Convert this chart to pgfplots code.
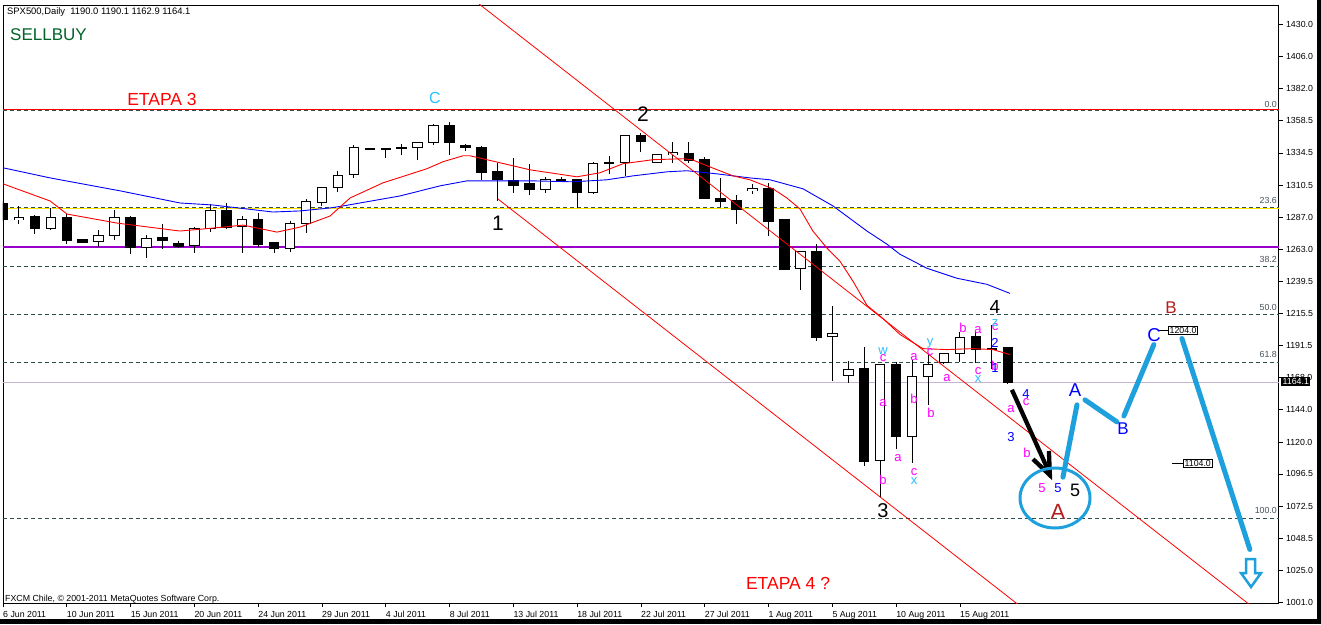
\documentclass[border=0pt]{standalone}
\usepackage{fontspec}
\setmainfont{Liberation Sans}
\usepackage{pgfplots}
\usepackage{pgfplotstable}
\pgfplotsset{compat=1.18}
\definecolor{fibc}{RGB}{47,79,79}
\definecolor{fibtxt}{RGB}{70,80,90}
\definecolor{wavecyan}{RGB}{30,160,220}
\definecolor{lblcyan}{RGB}{40,190,255}
\definecolor{mag}{RGB}{255,0,255}
\definecolor{darkred}{RGB}{180,30,30}
\definecolor{sbgreen}{RGB}{0,100,40}
\definecolor{purp}{RGB}{153,0,204}
\definecolor{curline}{RGB}{200,180,210}
\definecolor{yel}{RGB}{255,230,0}
\newcommand\fs[1]{\fontsize{#1}{#1}\selectfont}
% candles: bar index, open, high, low, close
\pgfplotstableread{
x o h l c
1 1284.8 1295.2 1281.8 1287.0
3 1278.8 1293.7 1277.3 1287.0
6 1269.1 1277.3 1264.7 1273.6
7 1273.6 1292.2 1269.9 1286.3
9 1264.7 1273.6 1256.5 1271.4
12 1266.1 1279.5 1260.2 1278.8
13 1278.8 1296.7 1275.8 1292.2
15 1280.3 1287.7 1260.2 1284.8
18 1263.9 1284.0 1260.9 1282.5
19 1282.5 1300.0 1275.1 1298.2
20 1297.4 1309.3 1295.2 1308.6
21 1308.6 1321.3 1305.6 1317.5
22 1318.3 1340.6 1316.0 1338.4
25 1338.0 1341.4 1333.2 1338.4
26 1338.4 1342.3 1329.5 1342.1
27 1342.1 1356.3 1340.6 1354.8
34 1307.1 1316.8 1304.9 1314.6
37 1304.9 1328.0 1304.1 1326.5
38 1327.2 1332.4 1319.0 1327.4
39 1327.2 1347.5 1317.5 1347.3
41 1327.2 1334.0 1327.0 1333.2
42 1333.2 1342.9 1327.2 1334.7
47 1306.4 1311.6 1304.1 1307.9
50 1249.0 1262.0 1232.6 1261.7
52 1198.4 1220.7 1165.6 1200.6
53 1169.3 1180.5 1164.1 1173.8
55 1106.8 1178.0 1079.2 1177.5
57 1124.6 1181.2 1104.5 1168.6
58 1168.6 1185.0 1147.7 1177.5
59 1179.0 1186.5 1178.3 1185.7
60 1185.7 1202.1 1179.8 1197.6
}\whitec
\pgfplotstableread{
x o h l c
0 1296.7 1298.9 1284.0 1285.5
2 1287.7 1288.5 1274.3 1278.8
4 1287.0 1289.2 1266.9 1269.9
5 1270.6 1271.0 1268.0 1268.4
8 1287.0 1287.5 1259.4 1264.7
10 1272.1 1281.8 1263.2 1269.9
11 1267.6 1269.1 1263.9 1265.4
14 1292.2 1297.4 1278.0 1279.5
16 1284.8 1290.0 1264.7 1266.9
17 1268.4 1268.6 1260.2 1263.9
23 1337.8 1338.0 1336.9 1337.3
24 1337.6 1337.8 1331.0 1336.9
28 1354.8 1357.8 1333.2 1342.1
29 1339.9 1341.4 1336.2 1338.4
30 1338.4 1339.9 1314.6 1319.8
31 1320.5 1327.2 1298.9 1314.6
32 1313.8 1331.0 1304.9 1310.1
33 1311.6 1326.5 1303.4 1307.1
35 1314.6 1316.8 1313.1 1313.8
36 1314.6 1315.0 1293.7 1304.9
40 1347.3 1349.6 1335.4 1342.9
43 1333.9 1342.9 1327.2 1328.7
44 1329.5 1331.7 1300.4 1301.1
45 1301.1 1316.0 1294.5 1298.2
46 1298.9 1303.4 1281.8 1292.2
48 1307.9 1312.3 1272.8 1284.0
49 1284.8 1285.5 1247.5 1248.3
51 1261.7 1266.9 1195.4 1197.6
54 1174.5 1190.9 1102.3 1106.0
56 1177.5 1179.8 1115.0 1124.6
61 1198.4 1202.1 1179.0 1188.7
62 1189.4 1207.3 1174.5 1189.2
63 1190.0 1190.1 1162.9 1164.1
}\blackc
\pgfplotsset{
  nomark/.style={only marks, mark=*, mark size=0pt, mark options={draw=none, fill=none}},
  wick/.style={nomark, error bars/.cd, y dir=both, y explicit, error mark=none, error bar style={black, line width=1pt}},
  body/.style 2 args={nomark, error bars/.cd, y dir=both, y explicit, error mark=none, error bar style={#1, line width=#2}},
}
\begin{document}
\begin{tikzpicture}
\path[use as bounding box] (-3pt,-21pt) rectangle (1318pt,603pt);
\fill[white] (-3pt,-21pt) rectangle (1318pt,603pt);
\begin{axis}[
  at={(0,0)}, anchor=south west,
  scale only axis, width=1276pt, height=598pt,
  xmin=0, xmax=80, ymin=1000.8, ymax=1444.2,
  axis line style={line width=0.8pt},
  tick align=outside, major tick length=4pt,
  tick style={black, line width=0.8pt},
  xtick pos=bottom, ytick pos=right, yticklabel pos=right,
  xtick={0,4,...,60},
  xticklabels={6 Jun 2011,10 Jun 2011,15 Jun 2011,20 Jun 2011,24 Jun 2011,29 Jun 2011,4 Jul 2011,8 Jul 2011,13 Jul 2011,18 Jul 2011,22 Jul 2011,27 Jul 2011,1 Aug 2011,5 Aug 2011,10 Aug 2011,15 Aug 2011},
  ytick={1001,1025,1048.5,1072.5,1096.5,1120,1144,1168,1191.5,1215.5,1239.5,1263,1287,1310.5,1334.5,1358.5,1382,1406,1430},
  yticklabels={1001.0,1025.0,1048.5,1072.5,1096.5,1120.0,1144.0,1168.0,1191.5,1215.5,1239.5,1263.0,1287.0,1310.5,1334.5,1358.5,1382.0,1406.0,1430.0},
  ticklabel style={font=\fs{8.8}},
  xticklabel style={anchor=north west, inner sep=0pt, yshift=-4pt},
  yticklabel style={anchor=west, inner sep=0pt, xshift=3pt},
]
% horizontal levels
\addplot[red, line width=1pt] coordinates {(0,1366.5) (80,1366.5)};
\addplot[fibc, dash pattern=on 4pt off 3pt, line width=1pt] coordinates {(0,1365.7) (80,1365.7)};
\addplot[fibc, dash pattern=on 4pt off 3pt, line width=1pt] coordinates {(0,1294.4) (80,1294.4)};
\addplot[fibc, dash pattern=on 4pt off 3pt, line width=1pt] coordinates {(0,1250.3) (80,1250.3)};
\addplot[fibc, dash pattern=on 4pt off 3pt, line width=1pt] coordinates {(0,1214.65) (80,1214.65)};
\addplot[fibc, dash pattern=on 4pt off 3pt, line width=1pt] coordinates {(0,1179.0) (80,1179.0)};
\addplot[fibc, dash pattern=on 4pt off 3pt, line width=1pt] coordinates {(0,1063.6) (80,1063.6)};
\addplot[yel, line width=1pt] coordinates {(0,1293.4) (80,1293.4)};
\addplot[purp, line width=1.2pt] coordinates {(0,1264.7) (80,1264.7)};
\addplot[curline, line width=0.8pt] coordinates {(0,1164.1) (80,1164.1)};
% candles: wicks, then bodies
\addplot[wick] table[x=x, y expr={(\thisrow{h}+\thisrow{l})/2}, y error expr={(\thisrow{h}-\thisrow{l})/2}] {\whitec};
\addplot[wick] table[x=x, y expr={(\thisrow{h}+\thisrow{l})/2}, y error expr={(\thisrow{h}-\thisrow{l})/2}] {\blackc};
\addplot[body={black}{10.5pt}] table[x=x, y expr={(\thisrow{o}+\thisrow{c})/2}, y error expr={abs(\thisrow{o}-\thisrow{c})/2+0.37}] {\blackc};
\addplot[body={black}{10.5pt}] table[x=x, y expr={(\thisrow{o}+\thisrow{c})/2}, y error expr={abs(\thisrow{o}-\thisrow{c})/2+0.37}] {\whitec};
\addplot[body={white}{8.5pt}] table[x=x, y expr={(\thisrow{o}+\thisrow{c})/2}, y error expr={max(abs(\thisrow{o}-\thisrow{c})/2-0.37,0)}] {\whitec};
% moving averages
\addplot[blue, line width=0.9pt] coordinates {(0,1323.5) (2.95,1316.0) (7.34,1306.4) (11.10,1297.4) (13.17,1295.9) (16.93,1290.7) (18.62,1291.5) (20.50,1293.7) (21.32,1295.2) (24.89,1302.6) (27.40,1310.1) (29.09,1313.8) (33.23,1313.8) (35.74,1313.1) (37.87,1314.6) (39.50,1317.5) (41.63,1320.5) (42.88,1321.3) (44.76,1319.0) (46.83,1316.0) (48.09,1314.6) (50.16,1307.9) (52.04,1295.2) (54.17,1276.6) (55.42,1266.9) (56.24,1259.4) (57.93,1249.0) (59.81,1241.6) (61.69,1237.1) (63.13,1230.4)};
\addplot[red, line width=0.9pt] coordinates {(0,1311.6) (2.95,1298.9) (4.01,1289.2) (7.15,1282.5) (11.10,1276.6) (13.17,1278.8) (15.05,1281.0) (17.18,1275.8) (18.62,1279.5) (20.50,1287.7) (21.76,1301.1) (23.82,1312.3) (26.58,1322.8) (27.59,1328.0) (28.84,1332.4) (29.28,1332.4) (30.34,1329.5) (33.04,1322.0) (35.99,1316.8) (37.43,1319.8) (38.87,1326.5) (40.75,1329.5) (42.63,1330.2) (43.20,1329.5) (44.14,1325.0) (45.77,1317.5) (46.83,1314.6) (48.28,1307.9) (49.15,1301.1) (49.97,1293.0) (50.78,1276.6) (51.66,1264.0) (52.48,1254.2) (53.30,1239.3) (54.17,1221.5) (55.17,1211.8) (56.24,1199.9) (57.68,1189.4) (59.18,1188.7) (60.82,1189.4) (62.07,1188.7) (63.13,1185.0)};
% channel lines
\addplot[red, line width=0.8pt] coordinates {(29.78,1445.6) (78.18,999.4)};
\addplot[red, line width=0.8pt] coordinates {(31.03,1300.4) (64.0,996.4)};
% projected wave
\addplot[wavecyan, line width=5pt, line cap=round] coordinates {(66.46,1094.1) (67.34,1147.7)};
\addplot[wavecyan, line width=5pt, line cap=round] coordinates {(67.84,1151.4) (69.84,1135.1)};
\addplot[wavecyan, line width=5pt, line cap=round] coordinates {(70.28,1139.5) (72.16,1192.4)};
\addplot[wavecyan, line width=5pt, line cap=round] coordinates {(73.92,1196.9) (78.18,1040.5)};
% black arrow
\addplot[black, line width=4.3pt] coordinates {(63.26,1158.9) (65.60,1097.5)};
\addplot[black, line width=4.3pt, line join=miter, miter limit=20] coordinates {(64.58,1107.5) (65.64,1095.6) (65.58,1113.5)};
\end{axis}
\begin{scope}[x=1pt, y=-1pt, shift={(-3pt,603pt)}]
\fill[black] (1317,0) rectangle (1321,624);
\fill[black] (0,619) rectangle (1321,624);
% ellipse and arrow
\draw[wavecyan, line width=3pt] (1055,498) ellipse [x radius=35pt, y radius=30pt];
\draw[wavecyan, line width=2.5pt, line join=miter] (1246,559) -- (1255,559) -- (1255,573) -- (1261,573) -- (1251,587) -- (1241,573) -- (1246,573) -- cycle;
% price labels
\draw[line width=0.8pt] (1158,330) -- (1168,330);
\node[draw, fill=white, line width=0.8pt, inner sep=1.2pt, anchor=west, font=\fs{8.8}, text height=6.3pt, text depth=0pt] at (1168,330.5) {1204.0};
\draw[line width=0.8pt] (1172,463) -- (1183,463);
\node[draw, fill=white, line width=0.8pt, inner sep=1.2pt, anchor=west, font=\fs{8.8}, text height=6.3pt, text depth=0pt] at (1183,463.5) {1104.0};
\node[fill=black, text=white, inner sep=1.5pt, anchor=west, font=\fs{8.8}, text height=6.3pt, text depth=0pt] at (1281,381.5) {1164.1};
% fib labels
\begin{scope}[every node/.style={anchor=south east, inner sep=0pt, text=fibtxt, font=\fs{8.8}}]
\node at (1277,107.5) {0.0};
\node at (1277,203.5) {23.6};
\node at (1277,263) {38.2};
\node at (1277,311) {50.0};
\node at (1277,358) {61.8};
\node at (1277,514) {100.0};
\end{scope}
% texts
\node[anchor=base west, inner sep=0pt, font=\fs{9.4}] at (7,14.5) {SPX500,Daily\ \ 1190.0 1190.1 1162.9 1164.1};
\node[anchor=west, inner sep=0pt, text=sbgreen, font=\fs{17}] at (10,34.5) {SELLBUY};
\node[anchor=base west, inner sep=0pt, font=\fs{8.8}] at (5,601) {FXCM Chile, \copyright\ 2001-2011 MetaQuotes Software Corp.};
\begin{scope}[every node/.style={inner sep=0pt}]
\node[text=red, font=\fs{17.5}] at (162,99.5) {ETAPA 3};
\node[text=red, font=\fs{17.5}] at (788,583) {ETAPA 4 ?};
\node[text=lblcyan, font=\fs{16}] at (435,98) {C};
\node[font=\fs{21}] at (643,114) {2};
\node[font=\fs{21}] at (498,223) {1};
\node[font=\fs{20}] at (883,511) {3};
\node[font=\fs{19}] at (995,307) {4};
\node[font=\fs{18}] at (1075,490) {5};
\node[text=darkred, font=\fs{22}] at (1058,512) {A};
\node[text=darkred, font=\fs{17}] at (1171,308) {B};
\node[text=blue, font=\fs{18.6}] at (1075,390) {A};
\node[text=blue, font=\fs{17}] at (1123,429) {B};
\node[text=blue, font=\fs{18.6}] at (1154,335) {C};
\end{scope}
\begin{scope}[every node/.style={inner sep=0pt, font=\fs{13}}]
\node[text=mag] at (883,358) {c};
\node[text=lblcyan] at (883,351) {w};
\node[text=mag] at (883,403) {a};
\node[text=mag] at (883,480) {b};
\node[text=mag] at (914,357) {a};
\node[text=mag] at (914,399) {b};
\node[text=mag] at (898,458) {a};
\node[text=mag] at (914,472) {c};
\node[text=lblcyan] at (914,481) {x};
\node[text=mag] at (930,352) {c};
\node[text=lblcyan] at (930,343) {y};
\node[text=mag] at (931,413) {b};
\node[text=mag] at (947,378) {a};
\node[text=mag] at (963,328) {b};
\node[text=mag] at (978,330) {a};
\node[text=mag] at (978,371) {c};
\node[text=lblcyan] at (978,379) {x};
\node[text=mag] at (995,327) {c};
\node[text=lblcyan] at (995,323) {z};
\node[text=blue] at (995,343) {2};
\node[text=mag] at (995,366) {b};
\node[text=blue] at (995,368) {1};
\node[text=blue] at (1026,394) {4};
\node[text=mag] at (1026,402) {c};
\node[text=mag] at (1011,409) {a};
\node[text=blue] at (1011,437) {3};
\node[text=mag] at (1027,453) {b};
\node[text=mag] at (1042,488) {5};
\node[text=blue] at (1058,488) {5};
\end{scope}
\end{scope}
\end{tikzpicture}
\end{document}
